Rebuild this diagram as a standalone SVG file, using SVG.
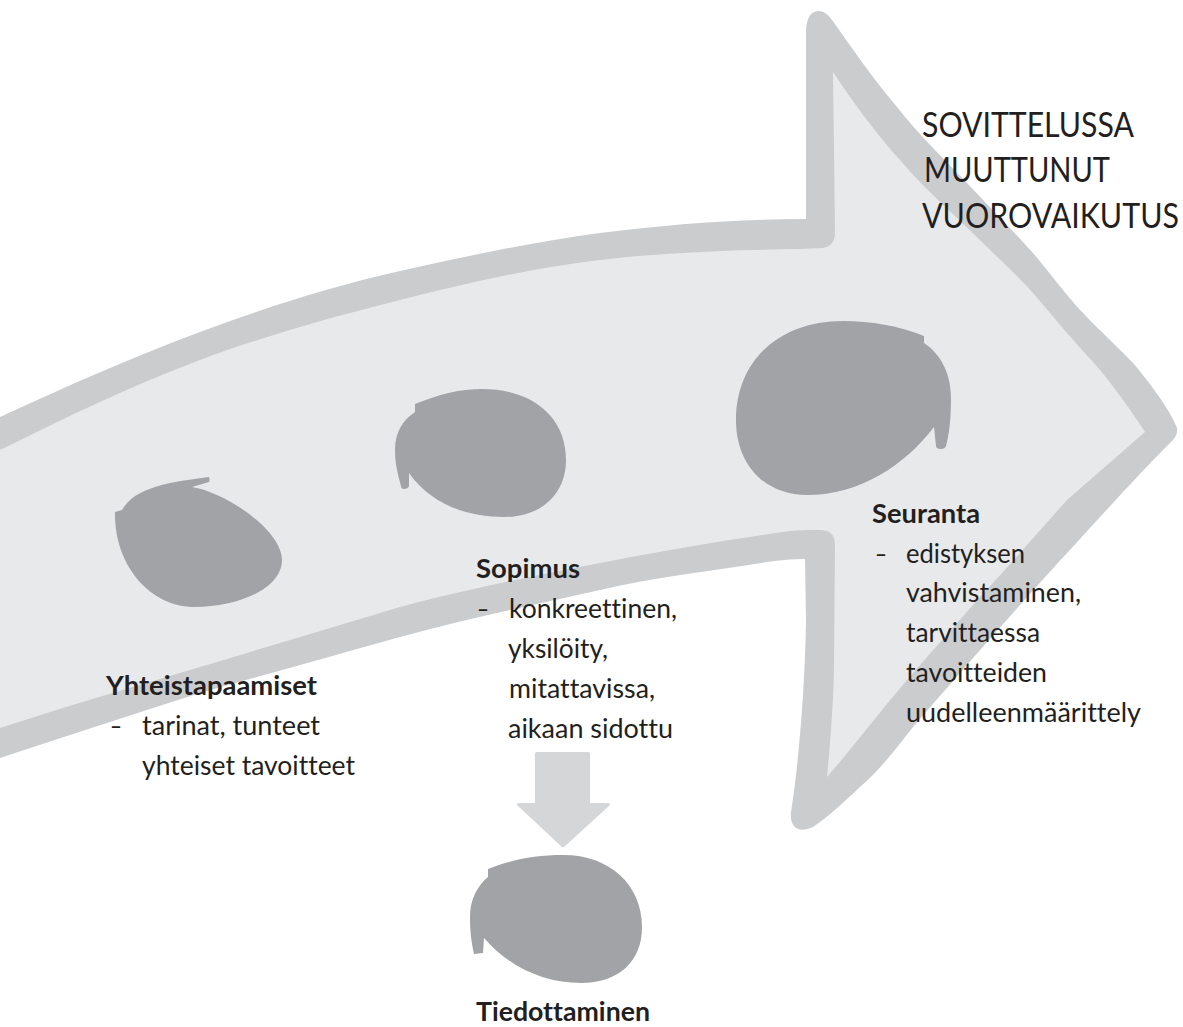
<svg xmlns="http://www.w3.org/2000/svg" width="1183" height="1027" viewBox="0 0 1183 1027">
<style>
.band{fill:#cbccce}.inner{fill:#e8e9eb}.blob{fill:#a2a3a6}.conn{fill:#d5d6d8;stroke:#d5d6d8;stroke-width:3;stroke-linejoin:round}
text{font-family:Lato,"Noto Sans","Liberation Sans",sans-serif;font-size:26px;fill:#231f20;font-variant-ligatures:none}
.b{font-weight:700}.t{font-size:35px;font-weight:400}
</style>
<rect width="1183" height="1027" fill="#fff"/>
<g id="big-arrow">
<path class="band" d="M-5,419 L0,417 C67,386 133,357 200,332 C267,307 333,286 400,271 C467,256 533,242 600,233 C670,224 740,219 806,219 L806,33 Q806,12 818,11 Q826,11 832,20 C850,45 870,75 897,107 C920,136 945,160 967,183 C990,207 1012,230 1033,253 C1050,273 1066,295 1083,313 C1100,331 1118,347 1133,363 C1150,383 1170,410 1177,428 Q1178,435 1172,441 C1145,468 1125,490 1100,517 C1070,550 1042,580 1013,613 C980,650 945,690 913,727 C895,750 880,770 860,787 C843,803 828,817 813,827 Q800,833 794,826 Q790,821 791,812 C798,770 805,690 806,620 L805,559 C793,559 780,560 767,562 C712,571 655,577 600,590 C533,605 467,619 400,637 C333,656 267,674 200,693 C133,714 67,736 0,758 L-5,760 Z"/>
<path class="inner" d="M-5,452 L0,450 C67,417 133,385 200,360 C267,335 333,317 400,300 C467,283 533,268 600,260 C667,252 733,250 800,249 L823,248 Q835,246 835,233 L833,72 C855,105 877,135 900,160 C925,190 955,215 983,243 C1000,260 1018,276 1033,293 C1045,307 1056,320 1067,333 C1078,346 1090,358 1100,370 C1115,388 1132,412 1145,432 L1067,500 C1040,530 1010,565 980,597 C960,620 935,648 913,673 C885,705 855,745 827,777 C830,745 834,700 834,660 L835,545 Q835,530 820,530 C808,530 795,530 783,532 C722,541 660,551 600,563 C533,576 467,589 400,607 C333,627 267,647 200,667 C133,687 67,706 0,728 L-5,730 Z"/>
</g>
<g id="connectors">
<path class="conn" d="M536.500,753.500 H588.500 V804.500 H608.500 L563,846 L518.500,804.500 H536.500 Z"/>
</g>
<g id="title">
<text class="t" x="922" y="137" textLength="212" lengthAdjust="spacingAndGlyphs">SOVITTELUSSA</text>
<text class="t" x="924" y="182" textLength="186" lengthAdjust="spacingAndGlyphs">MUUTTUNUT</text>
<text class="t" transform="translate(922,228) scale(.868,1)">VUOROVAIKUTUS</text>
</g>
<g id="node-yhteistapaamiset">
<path class="blob" d="M209,477 Q210,481 209,482 L192,487 C225,492 282,530 282,560 C282,590 235,607 195,607 C150,607 114,565 115,512 L122,510 C135,487 170,482 209,477 Z"/>
<text class="b" x="106" y="695" textLength="211" lengthAdjust="spacingAndGlyphs">Yhteistapaamiset</text>
<text x="110" y="735" textLength="12" lengthAdjust="spacingAndGlyphs">–</text>
<text x="142" y="735" textLength="178" lengthAdjust="spacingAndGlyphs">tarinat, tunteet</text>
<text x="142" y="775" textLength="213" lengthAdjust="spacingAndGlyphs">yhteiset tavoitteet</text>
</g>
<g id="node-sopimus">
<path class="blob" d="M415,404 C440,394 460,389 482,389 C530,389 566,415 566,460 C566,495 540,517 505,517 C465,517 430,503 409,473 L409,486 Q408,489 404,489 Q401,489 401,486 C397,472 395,462 395,450 C395,432 403,420 415,412 Z"/>
<text class="b" x="476" y="578" textLength="104" lengthAdjust="spacingAndGlyphs">Sopimus</text>
<text x="477" y="618" textLength="12" lengthAdjust="spacingAndGlyphs">–</text>
<text x="509" y="618" textLength="168" lengthAdjust="spacingAndGlyphs">konkreettinen,</text>
<text x="508" y="658" textLength="100" lengthAdjust="spacingAndGlyphs">yksilöity,</text>
<text x="509" y="698" textLength="146" lengthAdjust="spacingAndGlyphs">mitattavissa,</text>
<text x="508" y="738" textLength="165" lengthAdjust="spacingAndGlyphs">aikaan sidottu</text>
</g>
<g id="node-seuranta">
<path class="blob" d="M924,336 L924,343 C942,355 951,375 951,398 C951,420 949,435 946,446 Q945,449 941,449 Q936,449 936,446 L934,427 C905,465 860,495 807,495 C765,495 736,465 736,420 C736,360 780,321 843,321 C870,321 900,326 924,336 Z"/>
<text class="b" x="872" y="523" textLength="108" lengthAdjust="spacingAndGlyphs">Seuranta</text>
<text x="875" y="563" textLength="12" lengthAdjust="spacingAndGlyphs">–</text>
<text x="906" y="563" textLength="119" lengthAdjust="spacingAndGlyphs">edistyksen</text>
<text x="906" y="602" textLength="175" lengthAdjust="spacingAndGlyphs">vahvistaminen,</text>
<text x="906" y="642" textLength="134" lengthAdjust="spacingAndGlyphs">tarvittaessa</text>
<text x="906" y="682" textLength="141" lengthAdjust="spacingAndGlyphs">tavoitteiden</text>
<text x="906" y="722" textLength="235" lengthAdjust="spacingAndGlyphs">uudelleenmäärittely</text>
</g>
<g id="node-tiedottaminen">
<path class="blob" d="M488,869 C510,860 535,855 563,855 C610,855 642,885 642,927 C642,962 618,983 581,983 C545,983 510,968 484,938 L483,953 L474,954 C471,940 470,930 470,917 C470,900 477,886 488,877 Z"/>
<text class="b" x="476" y="1021" textLength="174" lengthAdjust="spacingAndGlyphs">Tiedottaminen</text>
</g>
</svg>
